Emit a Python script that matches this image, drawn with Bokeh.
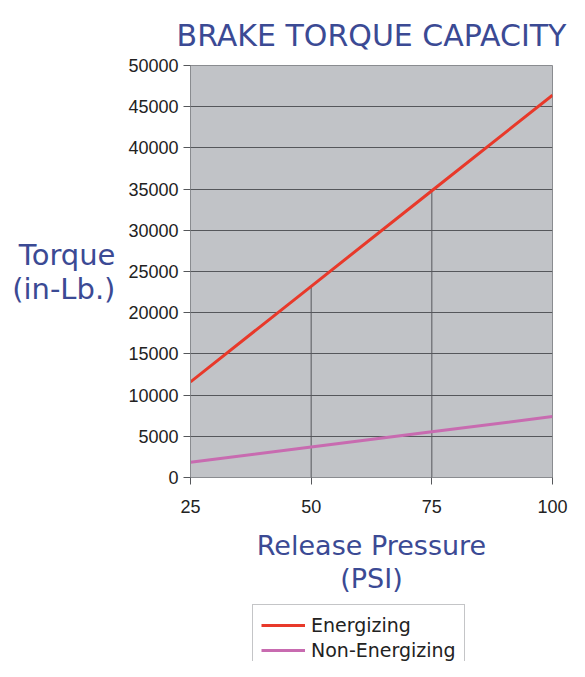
from bokeh.plotting import figure
from bokeh.layouts import column
from bokeh.models import Range1d, FixedTicker, Legend, LegendItem, NumeralTickFormatter
from bokeh.embed import file_html
from bokeh.resources import INLINE

pressure = [25, 50, 75, 100]
energizing = [11600, 23200, 34800, 46400]
non_energizing = [1850, 3700, 5550, 7400]
x_ticks = [25, 50, 75, 100]
y_ticks = [0, 5000, 10000, 15000, 20000, 25000, 30000, 35000, 40000, 45000, 50000]
series_names = ["Energizing", "Non-Energizing"]
series_colors = ["#e8392a", "#c86bb0"]

BLUE = "#3b4a94"
p = figure(width=569, height=600, output_backend="svg", toolbar_location=None,
           x_range=Range1d(25, 100), y_range=Range1d(0, 50000),
           min_border_left=190, min_border_right=17, min_border_top=65, min_border_bottom=123,
           title="BRAKE TORQUE CAPACITY")
p.title.text_font = "DejaVu Sans"
p.title.text_font_size = "30px"
p.title.text_font_style = "normal"
p.title.text_line_height = 1.0
p.title.text_color = BLUE
p.title.align = "center"
p.title.offset = 0
p.title.standoff = 26

p.background_fill_color = "#c1c3c7"
p.border_fill_color = "white"
p.outline_line_color = "#8a8c90"

p.xgrid.visible = False
p.ygrid.ticker = FixedTicker(ticks=y_ticks)
p.ygrid.grid_line_color = "#55575b"
p.ygrid.grid_line_width = 1

p.xaxis.ticker = FixedTicker(ticks=x_ticks)
p.yaxis.ticker = FixedTicker(ticks=y_ticks)
p.yaxis.formatter = NumeralTickFormatter(format="0")
for ax in (p.xaxis, p.yaxis):
    ax.major_label_text_font = "Liberation Sans"
    ax.major_label_text_font_size = "18px"
    ax.major_label_text_color = "#222222"
    ax.axis_line_color = "#8a8c90"
    ax.major_tick_line_color = "#55575b"
    ax.major_tick_out = 7
    ax.major_tick_in = 0
    ax.minor_tick_line_color = None
    ax.axis_label_text_font = "DejaVu Sans"
    ax.axis_label_text_font_style = "normal"
    ax.axis_label_text_color = BLUE

p.xaxis.major_label_standoff = 15
p.yaxis.major_label_standoff = 5
p.xaxis.axis_label = "Release Pressure\n(PSI)"
p.xaxis.axis_label_text_font_size = "27px"
p.xaxis.axis_label_text_line_height = 1.07
p.xaxis.axis_label_standoff = 14
p.yaxis.axis_label = "Torque\n(in-Lb.)"
p.yaxis.axis_label_text_font_size = "29px"
p.yaxis.axis_label_text_line_height = 1.0
p.yaxis.axis_label_orientation = "horizontal"
p.yaxis.axis_label_standoff = 10

# drop lines from energizing points
p.segment(x0=pressure[1:3], y0=[0, 0], x1=pressure[1:3], y1=energizing[1:3],
          line_color="#55575b", line_width=1)

p.line(pressure, energizing, line_color=series_colors[0], line_width=3)
p.line(pressure, non_energizing, line_color=series_colors[1], line_width=3)

# legend strip below the chart (its lines lie outside its own empty view)
p2 = figure(width=569, height=61, output_backend="svg", toolbar_location=None,
            x_axis_type=None, y_axis_type=None,
            x_range=Range1d(-2, -1), y_range=Range1d(-2, -1),
            min_border_left=0, min_border_right=0, min_border_top=0, min_border_bottom=0)
p2.outline_line_color = None
p2.xgrid.visible = False
p2.ygrid.visible = False
p2.background_fill_color = "white"
lr1 = p2.line(pressure, energizing, line_color=series_colors[0], line_width=3)
lr2 = p2.line(pressure, non_energizing, line_color=series_colors[1], line_width=3)

legend = Legend(items=[LegendItem(label=series_names[0], renderers=[lr1]),
                       LegendItem(label=series_names[1], renderers=[lr2])],
                location=(62, -10), orientation="vertical")
legend.label_text_font = "DejaVu Sans"
legend.label_text_font_size = "19px"
legend.label_text_color = "#222222"
legend.border_line_color = "#8a8c90"
legend.glyph_width = 44
legend.glyph_height = 24
legend.spacing = 1
legend.padding = 8
legend.margin = 0
legend.label_standoff = 6
legend.background_fill_alpha = 1
p2.add_layout(legend)

layout = column(p, p2, spacing=0)
open("out.html", "w").write(file_html(layout, INLINE))
